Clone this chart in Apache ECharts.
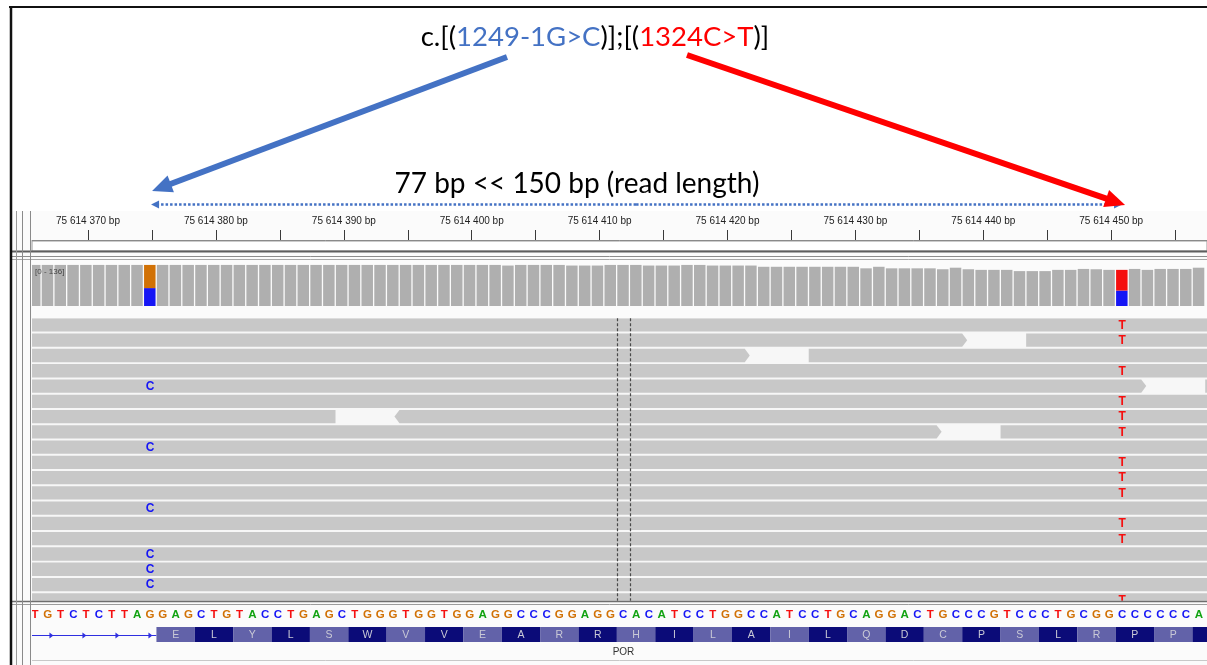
<!DOCTYPE html>
<html>
<head>
<meta charset="utf-8">
<title>POR variants – IGV view</title>
<script src="https://cdn.jsdelivr.net/npm/echarts@6.0.0/dist/echarts.min.js"></script>
<style>
html,body{margin:0;padding:0;background:#fff;}
#chart{width:1207px;height:665px;}
</style>
</head>
<body>
<div id="chart"></div>
<script>
// ================= DATA =================
const hgvsOpen = 'c.[(';
const hgvsMid = ')];[(';
const hgvsClose = ')]';
const variant1Label = '1249-1G>C';
const variant2Label = '1324C>T';
const distanceLabel = '77 bp << 150 bp (read length)';
const geneName = 'POR';
const coverageMax = 136;

const rulerTickPositions = [75614370, 75614375, 75614380, 75614385, 75614390, 75614395, 75614400, 75614405,
  75614410, 75614415, 75614420, 75614425, 75614430, 75614435, 75614440, 75614445, 75614450, 75614455];
const rulerLabelPositions = [75614370, 75614380, 75614390, 75614400, 75614410, 75614420, 75614430, 75614440, 75614450];

const refStart = 75614366;
const refSequence = 'TGTCTCTTAGGAGCTGTACCTGAGCTGGGTGGTGGAGGCCCGGAGGCACATCCTGGCCATCCTGCAGGACTGCCCGTCCCTGCGGCCCCCCA';

const coverage = [
  133,133,133,133,133,133,133,133,133,133,
  133,133,133,133,133,133,133,133,133,133,
  133,133,133,133,133,133,133,133,133,133,
  133,133,133,133,133,133,133,131,133,133,
  133,133,131,131,131,133,133,133,131,131,
  131,133,133,131,131,131,131,127,127,127,
  127,127,127,127,127,122,127,122,122,122,
  122,119,124,119,117,117,117,113,113,113,
  117,117,120,119,117,117,120,117,120,120,
  120,124
];

const variantPositions = [75614375, 75614451];
const variantAlleleCounts = [{ C: 58, G: 75 }, { C: 50, T: 67 }];

// reads: [start, end, strand(1=fwd,-1=rev)] per row
const readsByRow = [
  [[75614290, 75614530, 1]],
  [[75614290, 75614438, 1], [75614444, 75614530, 1]],
  [[75614290, 75614421, 1], [75614427, 75614530, 1]],
  [[75614290, 75614530, 1]],
  [[75614290, 75614452, 1], [75614458, 75614530, 1]],
  [[75614290, 75614530, 1]],
  [[75614290, 75614389, -1], [75614395, 75614530, -1]],
  [[75614290, 75614436, 1], [75614442, 75614530, 1]],
  [[75614290, 75614530, 1]],
  [[75614290, 75614530, 1]],
  [[75614290, 75614530, 1]],
  [[75614290, 75614530, 1]],
  [[75614290, 75614530, 1]],
  [[75614290, 75614530, 1]],
  [[75614290, 75614530, 1]],
  [[75614290, 75614530, 1]],
  [[75614290, 75614530, 1]],
  [[75614290, 75614530, 1]],
  [[75614290, 75614530, 1]]
];
const mismatchCRows = [4, 8, 12, 15, 16, 17];
const mismatchTRows = [0, 1, 3, 5, 6, 7, 9, 10, 11, 13, 14, 18];
const centerBasePosition = 75614412;

const cdsStart = 75614376;
const geneStart = 75614200;
const aminoAcids = ['E','L','Y','L','S','W','V','V','E','A','R','R','H','I','L','A','I','L','Q','D','C','P','S','L','R','P','P',''];

// ================= STYLE / LAYOUT =================
const VIEW_MIN = 75614365.62, VIEW_MAX = 75614457.49;
const BASE_L = -0.65, BASE_R = 0.35, BASE_C = -0.15;
const NT_COLORS = { A: '#12a312', C: '#1515f5', G: '#d17105', T: '#f50f0f' };
const COV_GRAY = '#afafaf', READ_GRAY = '#c8c8c8';
const AA_LIGHT = '#6262a9', AA_DARK = '#0b0b78';
const BLUE = '#4472c4', RED = '#ff0000';
const SANS = '"Liberation Sans", Arial, sans-serif';
const ANN_FONT = 'Lato';
const ANN_SIZE = 27.5;
const ROWS_VISIBLE = 18.5;
const READ_H = 0.87;

const variantMap = {};
variantPositions.forEach((p, i) => variantMap[p] = variantAlleleCounts[i]);

const covData = coverage.map((c, i) => [refStart + i, c]);
const seqData = refSequence.split('').map((b, i) => [refStart + i, 'ACGT'.indexOf(b)]);
const readData = [];
readsByRow.forEach((row, r) => row.forEach(rd => readData.push([rd[0], rd[1], r, rd[2]])));
const mismatchData = [];
mismatchCRows.forEach(r => mismatchData.push([variantPositions[0], r, 1]));
mismatchTRows.forEach(r => mismatchData.push([variantPositions[1], r, 3]));
const aaData = aminoAcids.map((a, k) => [cdsStart + 3 * k, k]);

function fmtBp(v) {
  return String(Math.round(v)).replace(/\B(?=(\d{3})+(?!\d))/g, ' ') + ' bp';
}

const X = (gi, show) => ({
  type: 'value', gridIndex: gi, min: VIEW_MIN, max: VIEW_MAX, show: !!show,
  splitLine: { show: false }
});

const chart = echarts.init(document.getElementById('chart'), null, { renderer: 'canvas' });

const option = {
  animation: false,
  backgroundColor: '#ffffff',
  grid: [
    { left: 32, right: 0, top: 210, height: 30 },      // ruler
    { left: 32, right: 0, top: 264, height: 42 },      // coverage
    { left: 32, right: 0, top: 318.3, height: 282.5 }, // reads
    { left: 32, right: 0, top: 607, height: 16 },      // sequence
    { left: 32, right: 0, top: 626, height: 17 }       // gene
  ],
  xAxis: [
    Object.assign(X(0, true), {
      position: 'bottom',
      axisLine: { show: true, lineStyle: { color: '#8a8a8a', width: 1 } },
      axisTick: { show: true, inside: true, length: 10, customValues: rulerTickPositions,
        lineStyle: { color: '#3a3a3a', width: 1 } },
      axisLabel: { show: true, inside: true, margin: 14, customValues: rulerLabelPositions,
        formatter: fmtBp, color: '#222', fontSize: 10, fontFamily: SANS }
    }),
    X(1), X(2), X(3), X(4)
  ],
  yAxis: [
    { type: 'value', gridIndex: 0, show: false, min: 0, max: 1, splitLine: { show: false } },
    { type: 'value', gridIndex: 1, show: false, min: 0, max: coverageMax, splitLine: { show: false } },
    { type: 'value', gridIndex: 2, show: false, min: 0, max: ROWS_VISIBLE, inverse: true, splitLine: { show: false } },
    { type: 'value', gridIndex: 3, show: false, min: 0, max: 1, inverse: true, splitLine: { show: false } },
    { type: 'value', gridIndex: 4, show: false, min: 0, max: 1, inverse: true, splitLine: { show: false } }
  ],
  series: [
    { // coverage
      type: 'custom', xAxisIndex: 1, yAxisIndex: 1, clip: true, data: covData,
      renderItem(params, api) {
        const pos = api.value(0), tot = api.value(1);
        const a = api.coord([pos + BASE_L, 0]);
        const b = api.coord([pos + BASE_R, 0]);
        const x = a[0] + 0.4, w = b[0] - a[0] - 1.3;
        const v = variantMap[pos];
        const children = [];
        if (!v) {
          const top = api.coord([pos, tot])[1];
          children.push({ type: 'rect', shape: { x, y: top, width: w, height: a[1] - top }, style: { fill: COV_GRAY } });
        } else {
          let acc = 0;
          ['A', 'C', 'G', 'T'].forEach(nt => {
            const c = v[nt]; if (!c) return;
            const y0 = api.coord([pos, acc])[1], y1 = api.coord([pos, acc + c])[1];
            children.push({ type: 'rect', shape: { x, y: y1, width: w, height: y0 - y1 }, style: { fill: NT_COLORS[nt] } });
            acc += c;
          });
        }
        return { type: 'group', children };
      }
    },
    { // reads
      type: 'custom', xAxisIndex: 2, yAxisIndex: 2, clip: true, data: readData,
      renderItem(params, api) {
        const s = api.value(0), e = api.value(1), row = api.value(2), strand = api.value(3);
        const tl = api.coord([s + BASE_L, row]);
        const br = api.coord([e + BASE_R, row + READ_H]);
        const x0 = tl[0], x1 = br[0], y0 = tl[1], y1 = br[1], ym = (y0 + y1) / 2;
        const pts = strand > 0
          ? [[x0, y0], [x1, y0], [x1 + 5, ym], [x1, y1], [x0, y1]]
          : [[x0, y0], [x1, y0], [x1, y1], [x0, y1], [x0 - 5, ym]];
        return { type: 'polygon', shape: { points: pts }, style: { fill: READ_GRAY } };
      }
    },
    { // mismatches
      type: 'custom', xAxisIndex: 2, yAxisIndex: 2, clip: true, data: mismatchData, z: 3,
      renderItem(params, api) {
        const pos = api.value(0), row = api.value(1), nt = 'ACGT'[api.value(2)];
        const p = api.coord([pos + BASE_C, row + READ_H / 2]);
        return { type: 'text', style: { text: nt, x: p[0], y: p[1] + 0.5, fill: NT_COLORS[nt],
          font: 'bold 12px ' + SANS, align: 'center', verticalAlign: 'middle' } };
      }
    },
    { // center lines
      type: 'custom', xAxisIndex: 2, yAxisIndex: 2, data: [[centerBasePosition]], z: 4,
      renderItem(params, api) {
        const pos = api.value(0);
        const cs = params.coordSys;
        const xa = api.coord([pos + BASE_L, 0])[0], xb = api.coord([pos + BASE_R, 0])[0];
        const mk = x => ({ type: 'line', shape: { x1: x, y1: cs.y, x2: x, y2: cs.y + cs.height },
          style: { stroke: '#4a4a4a', lineWidth: 1.2, lineDash: [3, 2] } });
        return { type: 'group', children: [mk(Math.round(xa) + 0.5), mk(Math.round(xb) + 0.5)] };
      }
    },
    { // reference sequence
      type: 'custom', xAxisIndex: 3, yAxisIndex: 3, clip: true, data: seqData,
      renderItem(params, api) {
        const pos = api.value(0), nt = 'ACGT'[api.value(1)];
        const p = api.coord([pos + BASE_C, 0.5]);
        return { type: 'text', style: { text: nt, x: p[0], y: p[1], fill: NT_COLORS[nt],
          font: 'bold 11.5px ' + SANS, align: 'center', verticalAlign: 'middle' } };
      }
    },
    { // gene intron line + name
      type: 'custom', xAxisIndex: 4, yAxisIndex: 4, data: [[geneStart, cdsStart]],
      renderItem(params, api) {
        const cs = params.coordSys;
        const s = api.coord([api.value(0) + BASE_L, 0.5]);
        const e = api.coord([api.value(1) + BASE_L, 0.5]);
        const xs = Math.max(s[0], cs.x), xe = e[0], y = Math.round(s[1]) + 0.5;
        const children = [{ type: 'line', shape: { x1: xs, y1: y, x2: xe, y2: y },
          style: { stroke: '#2f2fe0', lineWidth: 1.2 } }];
        for (let x = xe - 4; x > xs + 8; x -= 33) {
          children.push({ type: 'polygon', shape: { points: [[x - 4, y - 3], [x, y], [x - 4, y + 3]] },
            style: { fill: '#2f2fe0' } });
        }
        const gx = cs.x + cs.width / 2;
        children.push({ type: 'text', style: { text: geneName, x: gx + 4, y: cs.y + cs.height + 9,
          fill: '#333', font: '10px ' + SANS, align: 'center', verticalAlign: 'middle' } });
        return { type: 'group', children };
      }
    },
    { // amino acids
      type: 'custom', xAxisIndex: 4, yAxisIndex: 4, clip: true, data: aaData,
      renderItem(params, api) {
        const p = api.value(0), k = api.value(1);
        const a = api.coord([p + BASE_L, 0.06]);
        const b = api.coord([p + 2 + BASE_R, 0.94]);
        return { type: 'group', children: [
          { type: 'rect', shape: { x: a[0], y: a[1], width: b[0] - a[0], height: b[1] - a[1] },
            style: { fill: k % 2 === 0 ? AA_LIGHT : AA_DARK } },
          { type: 'text', style: { text: aminoAcids[k], x: (a[0] + b[0]) / 2, y: (a[1] + b[1]) / 2 + 0.5,
            fill: '#c9c9d6', font: '10.5px ' + SANS, align: 'center', verticalAlign: 'middle' } }
        ] };
      }
    }
  ]
};
chart.setOption(option);

// ================= ANNOTATIONS / CHROME =================
const px = v => chart.convertToPixel({ xAxisIndex: 1 }, v);
const c1x = px(variantPositions[0] + BASE_C);
const c2x = px(variantPositions[1] + BASE_C);

function arrow(x1, y1, x2, y2, color, lw, hl, hw, z, dash) {
  const dx = x2 - x1, dy = y2 - y1, len = Math.hypot(dx, dy);
  const ux = dx / len, uy = dy / len;
  const bx = x2 - ux * hl, by = y2 - uy * hl;
  return [
    { type: 'line', z, shape: { x1, y1, x2: bx + ux * 1, y2: by + uy * 1 },
      style: { stroke: color, lineWidth: lw, lineDash: dash || null } },
    { type: 'polygon', z, shape: { points: [[x2, y2], [bx - uy * hw / 2, by + ux * hw / 2], [bx + uy * hw / 2, by - ux * hw / 2]] },
      style: { fill: color } }
  ];
}
function hline(y, x1, x2, color, w) {
  return { type: 'line', z: 20, shape: { x1, y1: y, x2, y2: y }, style: { stroke: color, lineWidth: w } };
}
function vline(x, y1, y2, color, w) {
  return { type: 'line', z: 20, shape: { x1: x, y1, x2: x, y2 }, style: { stroke: color, lineWidth: w } };
}

const graphics = [
  // panel backgrounds
  { type: 'rect', z: -10, shape: { x: 12, y: 211, width: 1195, height: 454 }, style: { fill: '#fbfbfb' } },
  { type: 'rect', z: -9, shape: { x: 32, y: 318, width: 1175, height: 283 }, style: { fill: '#f7f7f7' } },
  { type: 'rect', z: -9, shape: { x: 32, y: 241, width: 1175, height: 10 }, style: { fill: '#ffffff', stroke: '#9a9a9a', lineWidth: 1 } },
  // IGV chrome lines
  hline(251.5, 12, 1207, '#5e5e5e', 2),
  hline(256.5, 12, 1207, '#8c8c8c', 1),
  hline(259.5, 12, 1207, '#a8a8a8', 1),
  hline(601.5, 12, 1207, '#6e6e6e', 1.5),
  hline(604.5, 12, 1207, '#9c9c9c', 1),
  hline(660.5, 32, 1207, '#c8c8c8', 1),
  vline(16.5, 211, 665, '#9a9a9a', 1),
  vline(22.5, 211, 665, '#8a8a8a', 1),
  vline(30.5, 211, 665, '#8a8a8a', 1),
  // outer frame
  hline(7, 9, 1207, '#111', 2),
  vline(11, 6, 665, '#111', 2.5),
  // coverage range label
  { type: 'text', z: 30, style: { text: '[0 - ' + coverageMax + ']', x: 35, y: 272, fill: '#444',
    font: '8px ' + SANS, align: 'left', verticalAlign: 'middle' } },
  // title
  { type: 'text', z: 40, style: {
    text: '{k|' + hgvsOpen + '}{b|' + variant1Label + '}{k|' + hgvsMid + '}{r|' + variant2Label + '}{k|' + hgvsClose + '}',
    x: 595, y: 37, align: 'center', verticalAlign: 'middle',
    font: ANN_SIZE + 'px ' + ANN_FONT,
    rich: {
      k: { fill: '#000', fontSize: ANN_SIZE, fontFamily: ANN_FONT },
      b: { fill: BLUE, fontSize: ANN_SIZE, fontFamily: ANN_FONT },
      r: { fill: RED, fontSize: ANN_SIZE, fontFamily: ANN_FONT }
    } } },
  { type: 'text', z: 40, style: { text: distanceLabel, x: 577, y: 184, align: 'center', verticalAlign: 'middle',
    fill: '#000', font: (ANN_SIZE + 0.5) + 'px ' + ANN_FONT } },
  // dotted double arrow
  ...arrow((c1x + c2x) / 2, 204.5, c1x + 1, 204.5, BLUE, 2.5, 8, 8, 41, [2.5, 2]),
  ...arrow((c1x + c2x) / 2, 204.5, c2x, 204.5, BLUE, 2.5, 8, 8, 41, [2.5, 2]),
  // big arrows
  ...arrow(507, 57, c1x + 2, 191, BLUE, 6, 20, 18, 42),
  ...arrow(687, 55, c2x + 3, 205, RED, 6, 20, 18, 43)
];
chart.setOption({ graphic: graphics });
</script>
</body>
</html>
